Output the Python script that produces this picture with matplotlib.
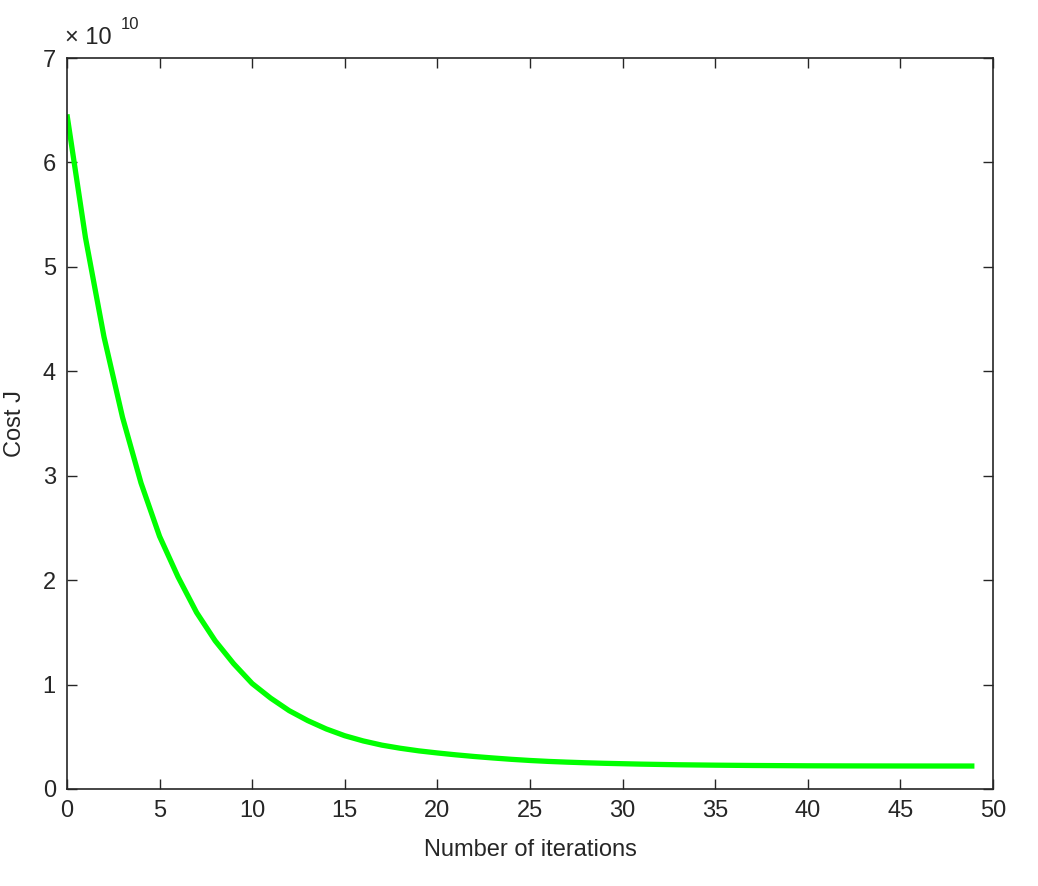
import matplotlib
matplotlib.use("Agg")
import matplotlib.pyplot as plt
from matplotlib.ticker import FixedLocator, FixedFormatter

# Data (cost in units of 1e10)
iterations = list(range(50))
cost_J_e10 = [6.46, 5.28, 4.33, 3.56, 2.93, 2.42, 2.03, 1.69, 1.42, 1.20,
              1.01, 0.87, 0.75, 0.655, 0.575, 0.51, 0.46, 0.42, 0.39, 0.365,
              0.345, 0.327, 0.311, 0.297, 0.284, 0.273, 0.264, 0.257, 0.251, 0.246,
              0.242, 0.238, 0.235, 0.232, 0.230, 0.228, 0.2265, 0.225, 0.224, 0.223,
              0.222, 0.2215, 0.221, 0.2207, 0.2204, 0.2202, 0.2200, 0.2199, 0.2198, 0.2197]
scale = 1e10
cost_J = [v * scale for v in cost_J_e10]

x_ticks = [0, 5, 10, 15, 20, 25, 30, 35, 40, 45, 50]
y_ticks = [0, 1, 2, 3, 4, 5, 6, 7]

plt.rcParams['font.family'] = ['Liberation Sans', 'DejaVu Sans']
text_color = '#262626'

fig = plt.figure(figsize=(10.38, 8.86), dpi=100)
ax = fig.add_axes([0.0645, 0.1095, 0.8921, 0.825])

ax.plot(iterations, cost_J, color='#00ff00', linewidth=3.8, solid_capstyle='butt')

ax.set_xlim(0, 50)
ax.set_ylim(0, 7 * scale)
ax.xaxis.set_major_locator(FixedLocator(x_ticks))
ax.xaxis.set_major_formatter(FixedFormatter([str(t) for t in x_ticks]))
ax.yaxis.set_major_locator(FixedLocator([t * scale for t in y_ticks]))
ax.yaxis.set_major_formatter(FixedFormatter([str(t) for t in y_ticks]))

ax.tick_params(direction='in', length=7.5, width=1.0, top=True, right=True,
               labelsize=17, colors=text_color, pad=8)
for sp in ax.spines.values():
    sp.set_linewidth(1.2)
    sp.set_color(text_color)

ax.set_xlabel('Number of iterations', fontsize=17, color=text_color, labelpad=12)
ax.set_ylabel('Cost J', fontsize=17, color=text_color, labelpad=12)

ax.text(-0.002, 1.012, '× 10', transform=ax.transAxes, fontsize=17,
        color=text_color, ha='left', va='bottom')
ax.text(0.058, 1.036, '10', transform=ax.transAxes, fontsize=12,
        color=text_color, ha='left', va='bottom')

fig.savefig('out.png', dpi=100)
